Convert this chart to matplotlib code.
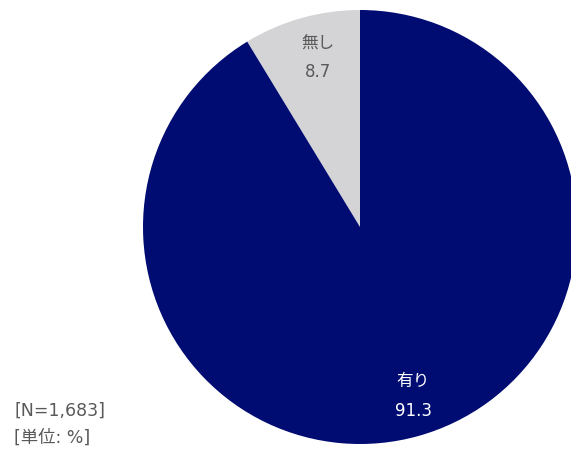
import numpy as np
import matplotlib
matplotlib.use('Agg')
import matplotlib.pyplot as plt

plt.rcParams['font.family'] = ['DejaVu Sans', 'Noto Sans CJK JP']

labels = ['無し', '有り']
values = [8.7, 91.3]
colors = ['#d4d4d6', '#000c72']
text_colors = ['#595959', '#ffffff']
n_label = '[N=1,683]'
unit_label = '[単位: %]'

fig = plt.figure(figsize=(5.71, 4.51), dpi=100)
ax = fig.add_axes([143 / 571, 7 / 451, 434 / 571, 434 / 451])

wedges, _ = ax.pie(values, colors=colors, startangle=90, counterclock=True,
                   radius=1, wedgeprops=dict(linewidth=0))
ax.set_xlim(-1, 1)
ax.set_ylim(-1, 1)
ax.set_aspect('equal')
ax.axis('off')

# labels inside each wedge
start = 90
for lab, val, tc in zip(labels, values, text_colors):
    mid = np.deg2rad(start + val * 3.6 / 2)
    start += val * 3.6
    x, y = 0.81 * np.cos(mid) + 0.027, 0.81 * np.sin(mid)
    ax.text(x, y + 0.067, lab, ha='center', va='center', fontsize=12, color=tc,
            family=['Noto Sans CJK JP', 'DejaVu Sans'])
    ax.text(x, y - 0.067, f'{val:.1f}', ha='center', va='center', fontsize=12, color=tc)

fig.text(14 / 571, 1 - 411 / 451, n_label, ha='left', va='center', fontsize=12.5, color='#595959')
fig.text(14 / 571, 1 - 438 / 451, unit_label, ha='left', va='center', fontsize=12.5, color='#595959')

fig.savefig('out.png', dpi=100)
